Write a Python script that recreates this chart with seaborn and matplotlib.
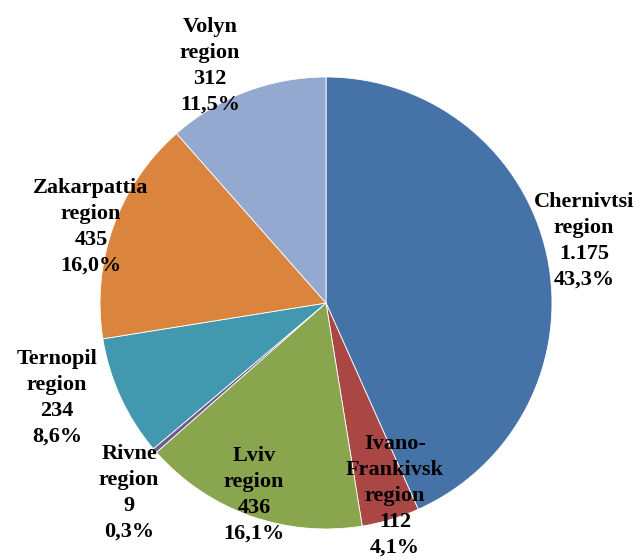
import matplotlib
matplotlib.use('Agg')
import matplotlib.pyplot as plt
import seaborn as sns

sns.set_style('white')
plt.rcParams['font.family'] = ['Liberation Serif', 'DejaVu Serif']

# data
regions = ['Chernivtsi\nregion', 'Ivano-\nFrankivsk\nregion', 'Lviv\nregion', 'Rivne\nregion',
           'Ternopil\nregion', 'Zakarpattia\nregion', 'Volyn\nregion']
values = [1175, 112, 436, 9, 234, 435, 312]
value_labels = ['1.175', '112', '436', '9', '234', '435', '312']
pct_labels = ['43,3%', '4,1%', '16,1%', '0,3%', '8,6%', '16,0%', '11,5%']
colors = sns.color_palette(['#4572A7', '#AA4643', '#89A54E', '#71588F',
                            '#4198AF', '#DB843D', '#93A9CF'])

# label centres in pixel space (layout only)
label_xy = [(584, 241), (395, 496), (254, 495), (129, 493),
            (57, 398), (91, 227), (210, 66)]

W, H = 640, 560
fig = plt.figure(figsize=(W / 100, H / 100), dpi=100)
ax = fig.add_axes([0, 0, 1, 1])

ax.pie(values, colors=colors, startangle=90, counterclock=False,
       center=(326, H - 303), radius=226, frame=True,
       wedgeprops=dict(edgecolor='white', linewidth=0.6))
ax.set_xlim(0, W)
ax.set_ylim(0, H)
ax.set_aspect('equal')
ax.axis('off')

for name, v, p, (x, y) in zip(regions, value_labels, pct_labels, label_xy):
    ax.text(x, H - y, f'{name}\n{v}\n{p}', ha='center', va='center',
            fontsize=16, fontweight='bold', linespacing=1.4, color='black')

fig.savefig('out.png', dpi=100)
